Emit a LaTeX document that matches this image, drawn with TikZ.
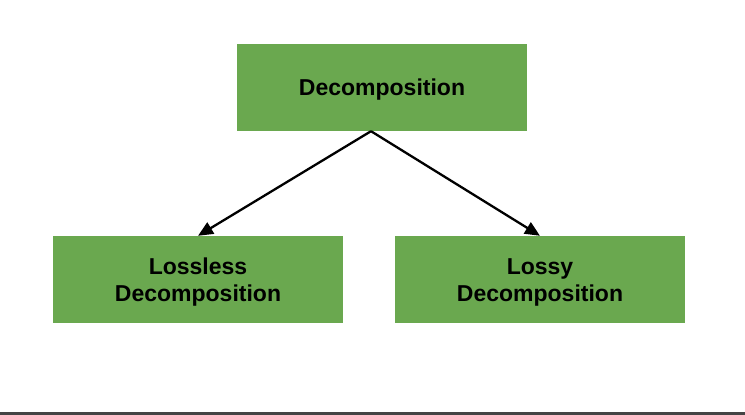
\documentclass[tikz,border=0pt]{standalone}
\usepackage{fontspec}
\setmainfont{Liberation Sans}
\usetikzlibrary{arrows.meta}
\definecolor{boxgreen}{HTML}{6AA84F}
\definecolor{bargrey}{HTML}{444444}
\tikzset{
  gbox/.style={fill=boxgreen, draw=none, minimum width=290pt, minimum height=87pt,
    inner sep=0pt},
  gtext/.style={inner sep=0pt, align=center, font=\fontsize{23pt}{27pt}\selectfont\bfseries, text=black},
  conn/.style={line width=2.3pt, -{Triangle[length=15pt,width=13pt]}}
}
\begin{document}
\begin{tikzpicture}[x=1pt,y=1pt]
\useasboundingbox (0,0) rectangle (745,415);
\fill[white] (0,0) rectangle (745,415);
\fill[bargrey] (0,0) rectangle (745,3);
\node[gbox] (top) at (382,327.5) {};
\node[gbox] (l) at (198,135.5) {};
\node[gbox] (r) at (540,135.5) {};
\node[gtext] (topt) at ([yshift=-2.5pt]top.center) {Decomposition};
\node[gtext] (lt) at ([yshift=-2.5pt]l.center) {Lossless\\Decomposition};
\node[gtext] (rt) at ([yshift=-2.5pt]r.center) {Lossy\\Decomposition};
\coordinate (s) at ([xshift=-11pt]top.south);
\draw[conn] (s) -- (l.north);
\draw[conn] (s) -- (r.north);
\end{tikzpicture}
\end{document}
